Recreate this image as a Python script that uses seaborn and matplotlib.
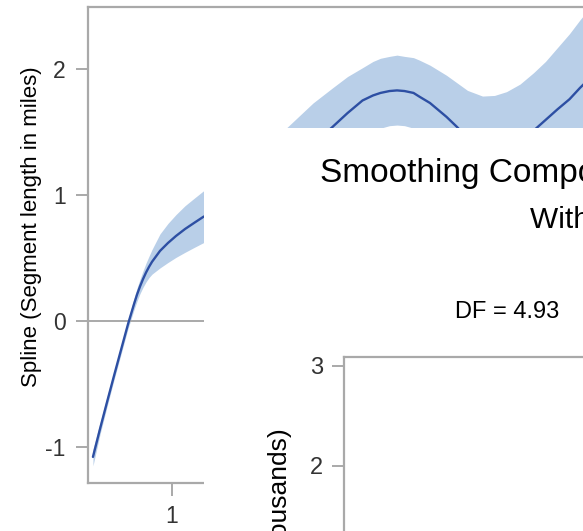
import numpy as np
import pandas as pd
import matplotlib
matplotlib.use("Agg")
import matplotlib.pyplot as plt
from matplotlib.patches import Rectangle
import seaborn as sns

# spline component and its confidence band
seg_length = [0.473, 0.52, 0.567, 0.613, 0.66, 0.707, 0.747, 0.767, 0.787, 0.807,
              0.827, 0.847, 0.867, 0.92, 0.973, 1.027, 1.087, 1.147, 1.207, 1.35,
              1.50, 1.65, 1.77, 1.94, 2.07, 2.17, 2.27, 2.34, 2.39, 2.45,
              2.50, 2.55, 2.61, 2.65, 2.72, 2.83, 2.90, 2.97, 3.07, 3.15,
              3.23, 3.32, 3.41, 3.49, 3.57, 3.65, 3.72, 3.90, 4.10]
spline = [-1.079, -0.857, -0.643, -0.437, -0.230, -0.024, 0.135, 0.21, 0.275, 0.333,
          0.385, 0.43, 0.47, 0.556, 0.619, 0.675, 0.730, 0.778, 0.825, 0.91,
          1.00, 1.11, 1.22, 1.40, 1.54, 1.65, 1.75, 1.79, 1.81, 1.825,
          1.83, 1.825, 1.81, 1.78, 1.73, 1.62, 1.54, 1.45, 1.36, 1.31,
          1.31, 1.38, 1.51, 1.595, 1.68, 1.76, 1.85, 2.06, 2.30]
band_lower = [-1.15, -0.90, -0.68, -0.47, -0.265, -0.06, 0.09, 0.158, 0.218, 0.268,
              0.31, 0.345, 0.372, 0.421, 0.464, 0.505, 0.545, 0.583, 0.62, 0.67,
              0.73, 0.82, 0.91, 1.08, 1.24, 1.36, 1.47, 1.51, 1.53, 1.55,
              1.555, 1.55, 1.53, 1.50, 1.44, 1.31, 1.22, 1.10, 0.96, 0.88,
              0.85, 0.88, 0.98, 1.05, 1.12, 1.20, 1.30, 1.45, 1.60]
band_upper = [-1.02, -0.81, -0.60, -0.40, -0.195, 0.01, 0.18, 0.262, 0.332, 0.398,
              0.46, 0.515, 0.568, 0.691, 0.774, 0.845, 0.915, 0.973, 1.03, 1.15,
              1.27, 1.41, 1.54, 1.73, 1.85, 1.94, 2.01, 2.06, 2.085, 2.10,
              2.11, 2.10, 2.09, 2.07, 2.03, 1.95, 1.89, 1.83, 1.785, 1.79,
              1.82, 1.88, 1.97, 2.06, 2.17, 2.28, 2.39, 2.65, 2.95]

df = pd.DataFrame({"x": seg_length, "y": spline, "lo": band_lower, "hi": band_upper})

title = "Smoothing Component Panel"
subtitle = "With 95% Confidence Bands"
df_note = "DF = 4.93"
ylabel1 = "Spline (Segment length in miles)"
ylabel2 = "Traffic volume (in thousands)"

sns.set_theme(style="white")
plt.rcParams["font.family"] = ["Liberation Sans", "DejaVu Sans"]
plt.rcParams["axes.unicode_minus"] = False

W, H = 583, 531
fig = plt.figure(figsize=(W / 100, H / 100), dpi=100)

def fx(px):
    return px / W

def fy(py):
    return 1 - py / H

axis_grey = "#a9a9a9"
text_grey = "#333333"
band_col = "#b9cfe8"
line_col = "#2d4fa3"

# background chart (only partly visible)
ax1 = fig.add_axes([fx(88), fy(483), fx(700) - fx(88), fy(7) - fy(483)])
ax1.fill_between(df["x"], df["lo"], df["hi"], color=band_col, linewidth=0)
sns.lineplot(data=df, x="x", y="y", ax=ax1, color=line_col, linewidth=1.7)
ax1.axhline(0, color=axis_grey, linewidth=1.4, zorder=1)
ax1.set_xlim(0.44, 4.52)
ax1.set_ylim(-1.286, 2.492)
ax1.set_yticks([-1, 0, 1, 2])
ax1.set_xticks([1, 2, 3, 4])
ax1.set_xlabel("")
ax1.set_ylabel(ylabel1, fontsize=16, color="black")
ax1.yaxis.set_label_coords((42 - 88) / 612, (483 - 227) / 476)
for s in ax1.spines.values():
    s.set_color(axis_grey)
    s.set_linewidth(1.6)
ax1.tick_params(axis="both", direction="out", length=9, width=1.4, color=axis_grey,
                labelsize=16.5, labelcolor=text_grey, pad=7,
                left=True, bottom=True)

# white panel of the overlapping window
fig.add_artist(Rectangle((fx(204), 0), 1, fy(128), transform=fig.transFigure,
                         facecolor="white", edgecolor="none", zorder=5))

fig.text(fx(320), fy(182), title, fontsize=24, color="black", va="baseline", zorder=11)
fig.text(fx(530), fy(228), subtitle, fontsize=21.5, color="black", va="baseline", zorder=11)
fig.text(fx(455), fy(318), df_note, fontsize=17, color="black", va="baseline", zorder=11)
fig.text(fx(292), fy(428), ylabel2, fontsize=19, color="black", rotation=90,
         rotation_mode="anchor", ha="right", va="bottom", zorder=11)

# foreground chart (empty, cut off)
ax2 = fig.add_axes([fx(344), fy(566), fx(800) - fx(344), fy(357) - fy(566)], zorder=10)
ax2.set_facecolor("white")
ax2.set_xlim(0, 1)
ax2.set_ylim(1, 3.09)
ax2.set_yticks([2, 3])
ax2.set_xticks([])
for s in ax2.spines.values():
    s.set_color(axis_grey)
    s.set_linewidth(1.6)
ax2.tick_params(axis="y", direction="out", length=9, width=1.4, color=axis_grey,
                labelsize=17, labelcolor=text_grey, pad=6, left=True)

fig.savefig("out.png", dpi=100)
